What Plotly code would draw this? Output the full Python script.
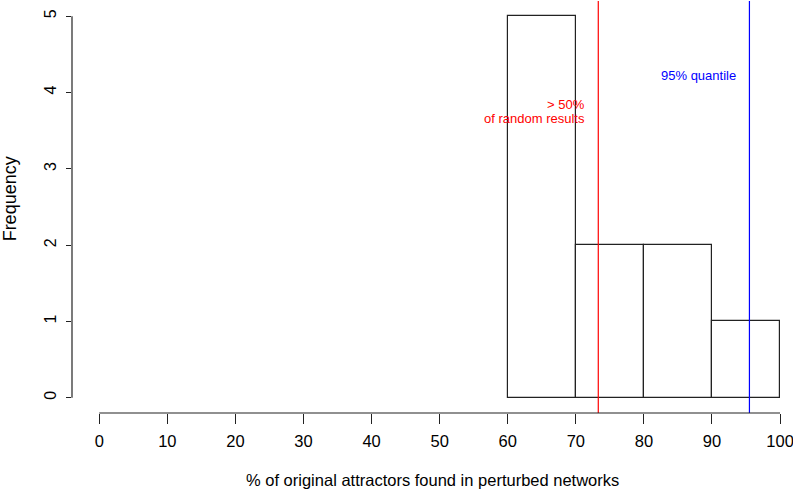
import plotly.graph_objects as go

# Data
bin_edges = [60, 70, 80, 90, 100]
counts = [5, 2, 2, 1]
x_ticks = [0, 10, 20, 30, 40, 50, 60, 70, 80, 90, 100]
y_ticks = [0, 1, 2, 3, 4, 5]
random_median = 73.3      # "> 50% of random results"
quantile_95 = 95.5        # "95% quantile"

centers = [(a + b) / 2 for a, b in zip(bin_edges[:-1], bin_edges[1:])]
widths = [b - a for a, b in zip(bin_edges[:-1], bin_edges[1:])]

FONT = "Liberation Sans, Arial, sans-serif"

fig = go.Figure()
fig.add_trace(go.Bar(
    x=centers, y=counts, width=widths,
    marker=dict(color="white", line=dict(color="#222222", width=1.2)),
    hoverinfo="skip", showlegend=False,
))

# vertical reference lines
fig.add_shape(type="line", xref="x", yref="paper", x0=random_median, x1=random_median,
              y0=0, y1=1, line=dict(color="#ff0000", width=1.2))
fig.add_shape(type="line", xref="x", yref="paper", x0=quantile_95, x1=quantile_95,
              y0=0, y1=1, line=dict(color="#0000ff", width=1.2))

# axis lines spanning only tick range (R style)
fig.add_shape(type="line", xref="x", yref="paper", x0=min(x_ticks), x1=max(x_ticks),
              y0=0, y1=0, line=dict(color="#222222", width=1.2))
fig.add_shape(type="line", xref="paper", yref="y", x0=0, x1=0,
              y0=min(y_ticks), y1=max(y_ticks), line=dict(color="#222222", width=1.2))

# annotations
fig.add_annotation(x=random_median - 1.7, y=3.85, text="&gt; 50%", showarrow=False,
                   xanchor="right", yanchor="middle",
                   font=dict(family=FONT, size=13, color="#ff0000"))
fig.add_annotation(x=random_median - 1.7, y=3.66, text="of random results", showarrow=False,
                   xanchor="right", yanchor="middle",
                   font=dict(family=FONT, size=13, color="#ff0000"))
fig.add_annotation(x=quantile_95 - 1.7, y=4.23, text="95% quantile", showarrow=False,
                   xanchor="right", yanchor="middle",
                   font=dict(family=FONT, size=13, color="#0000ff"))

# axis titles
fig.add_annotation(xref="paper", yref="paper", x=0.5, y=0, yshift=-67,
                   text="% of original attractors found in perturbed networks",
                   showarrow=False, xanchor="center", yanchor="middle",
                   font=dict(family=FONT, size=16.5, color="black"))
fig.add_annotation(xref="paper", yref="y", x=0, xshift=-62, y=2.6,
                   text="Frequency", textangle=-90,
                   showarrow=False, xanchor="center", yanchor="middle",
                   font=dict(family=FONT, size=18, color="black"))

fig.update_layout(
    width=793, height=491,
    margin=dict(l=72, r=0, t=1, b=78),
    paper_bgcolor="white", plot_bgcolor="white",
    bargap=0,
    xaxis=dict(range=[-4, 101.9], tickvals=x_ticks, ticktext=[str(v) for v in x_ticks],
               showgrid=False, zeroline=False, showline=False,
               ticks="outside", ticklen=10, tickwidth=1.2, tickcolor="#222222",
               ticklabeloverflow="allow", ticklabelstandoff=3,
               tickfont=dict(family=FONT, size=16.5, color="black")),
    yaxis=dict(range=[-0.2, 5.2], tickvals=y_ticks, ticktext=[str(v) for v in y_ticks],
               showgrid=False, zeroline=False, showline=False,
               ticks="outside", ticklen=5, tickwidth=1.2, tickcolor="#222222",
               tickangle=-90, ticklabelstandoff=4,
               tickfont=dict(family=FONT, size=16, color="black")),
)

fig.write_html(
    "out.html",
    config={"displayModeBar": False},
    post_script="document.body.style.margin='0';document.body.style.overflow='hidden';",
)
